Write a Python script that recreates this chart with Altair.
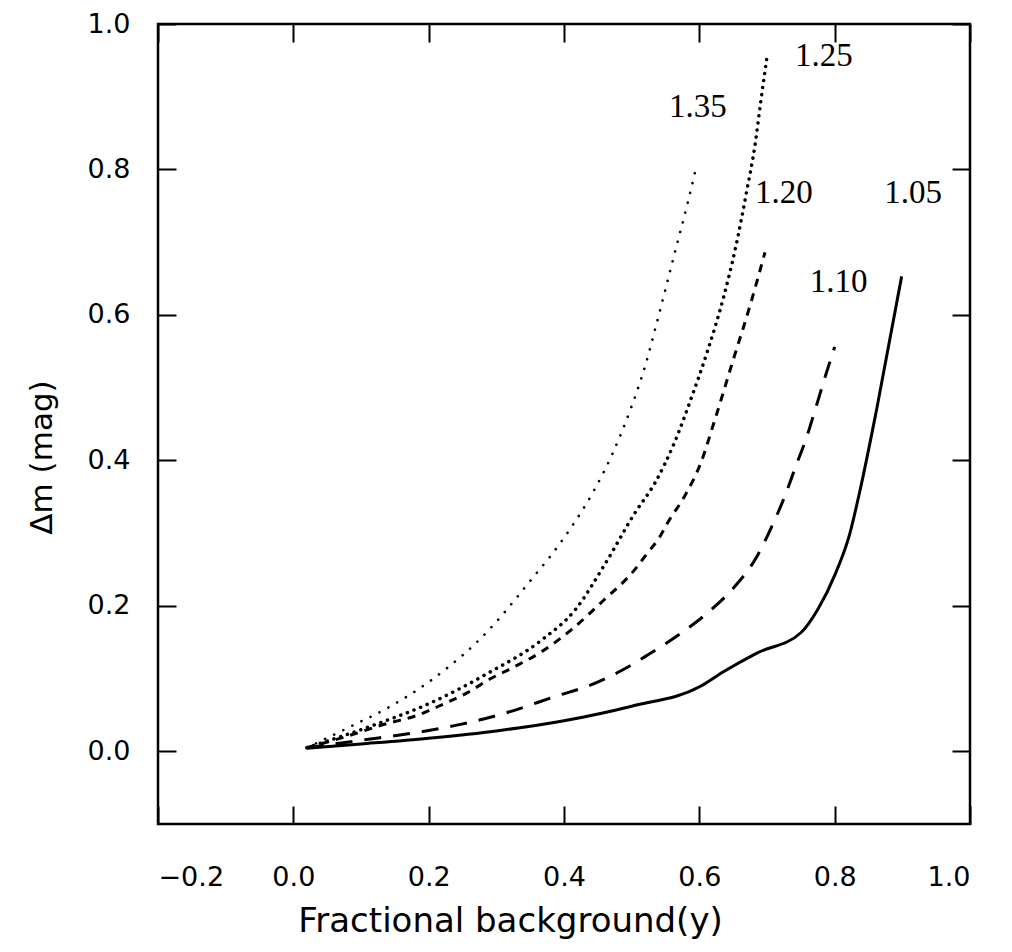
import altair as alt
import pandas as pd

# ---- data ----
x_105 = [0.02, 0.10, 0.20, 0.30, 0.40, 0.50, 0.601, 0.635, 0.685, 0.75, 0.775, 0.801, 0.822, 0.838, 0.862, 0.899]
y_105 = [0.004, 0.010, 0.018, 0.028, 0.042, 0.062, 0.089, 0.109, 0.135, 0.163, 0.195, 0.244, 0.298, 0.361, 0.470, 0.653]

x_110 = [0.02, 0.099, 0.196, 0.247, 0.315, 0.389, 0.439, 0.485, 0.523, 0.574, 0.613, 0.650, 0.684, 0.707, 0.726, 0.743, 0.759, 0.771, 0.788, 0.800]
y_110 = [0.005, 0.015, 0.028, 0.037, 0.053, 0.076, 0.091, 0.111, 0.132, 0.163, 0.191, 0.224, 0.266, 0.309, 0.350, 0.393, 0.433, 0.469, 0.521, 0.556]

x_120 = [0.02, 0.07, 0.138, 0.182, 0.222, 0.256, 0.292, 0.322, 0.367, 0.412, 0.459, 0.503, 0.522, 0.541, 0.553, 0.579, 0.602, 0.623, 0.650, 0.675, 0.697]
y_120 = [0.005, 0.018, 0.038, 0.049, 0.065, 0.080, 0.100, 0.114, 0.137, 0.168, 0.208, 0.248, 0.271, 0.294, 0.314, 0.352, 0.396, 0.456, 0.538, 0.613, 0.686]

x_125 = [0.02, 0.119, 0.204, 0.287, 0.367, 0.417, 0.459, 0.505, 0.535, 0.563, 0.589, 0.612, 0.636, 0.653, 0.670, 0.682, 0.691, 0.700]
y_125 = [0.005, 0.036, 0.067, 0.107, 0.153, 0.195, 0.255, 0.328, 0.370, 0.424, 0.488, 0.550, 0.625, 0.690, 0.770, 0.832, 0.895, 0.955]

x_135 = [0.02, 0.089, 0.144, 0.189, 0.228, 0.269, 0.299, 0.329, 0.355, 0.378, 0.41, 0.444, 0.472, 0.499, 0.52, 0.536, 0.56, 0.583, 0.596]
y_135 = [0.005, 0.036, 0.062, 0.088, 0.115, 0.148, 0.177, 0.210, 0.240, 0.266, 0.307, 0.358, 0.410, 0.472, 0.530, 0.585, 0.672, 0.755, 0.805]

label_text = ["1.25", "1.35", "1.20", "1.05", "1.10"]
label_x = [0.784, 0.598, 0.725, 0.916, 0.806]
label_y = [0.956, 0.886, 0.767, 0.768, 0.645]

x_ticks = [-0.2, 0.0, 0.2, 0.4, 0.6, 0.8, 1.0]
y_ticks = [0.0, 0.2, 0.4, 0.6, 0.8, 1.0]

W, H = 812, 800
TICK = 18

xs = alt.Scale(domain=[-0.2, 1.0], nice=False, zero=False)
ys = alt.Scale(domain=[-0.1, 1.0], nice=False, zero=False)

x_bottom = alt.Axis(orient="bottom", values=x_ticks, format=".1f", offset=-TICK, tickSize=TICK,
                    tickWidth=2, tickColor="black", domain=False, grid=False,
                    labelFont="DejaVu Sans", labelFontSize=27, labelColor="black", labelPadding=40,
                    title="Fractional background(y)", titleFont="DejaVu Sans", titleFontSize=34,
                    titleFontWeight="normal", titleColor="black", titleX=352, titleY=125,
                    titleAlign="center", titleBaseline="alphabetic")
y_left = alt.Axis(orient="left", values=y_ticks, format=".1f", offset=-TICK, tickSize=TICK,
                  tickWidth=2, tickColor="black", domain=False, grid=False,
                  labelFont="DejaVu Sans", labelFontSize=27, labelColor="black", labelPadding=28,
                  title="Δm (mag)", titleFont="DejaVu Sans", titleFontSize=31,
                  titleFontWeight="normal", titleColor="black", titleX=-134, titleY=433,
                  titleAngle=270, titleAlign="center", titleBaseline="middle")
x_top = alt.Axis(orient="top", values=x_ticks, offset=-TICK, tickSize=TICK, tickWidth=2,
                 tickColor="black", domain=False, grid=False, labels=False, title=None)
y_right = alt.Axis(orient="right", values=y_ticks, offset=-TICK, tickSize=TICK, tickWidth=2,
                   tickColor="black", domain=False, grid=False, labels=False, title=None)


def frame(xv, yv):
    return pd.DataFrame({"x": xv, "y": yv, "o": list(range(len(xv)))})


l105 = alt.Chart(frame(x_105, y_105)).mark_line(color="black", strokeWidth=3, interpolate="monotone").encode(
    x=alt.X("x:Q", scale=xs, axis=x_bottom),
    y=alt.Y("y:Q", scale=ys, axis=y_left),
    order="o:Q",
)
l110 = alt.Chart(frame(x_110, y_110)).mark_line(color="black", strokeWidth=3, strokeDash=[17, 12],
                                                 interpolate="monotone").encode(
    x=alt.X("x:Q", scale=xs, axis=x_top),
    y=alt.Y("y:Q", scale=ys, axis=y_right),
    order="o:Q",
)
l120 = alt.Chart(frame(x_120, y_120)).mark_line(color="black", strokeWidth=3, strokeDash=[8, 7],
                                                 interpolate="monotone").encode(
    x=alt.X("x:Q", scale=xs, axis=None),
    y=alt.Y("y:Q", scale=ys, axis=None),
    order="o:Q",
)
l125 = alt.Chart(frame(x_125, y_125)).mark_line(color="black", strokeWidth=3.5, strokeDash=[0.1, 7],
                                                 strokeCap="round", interpolate="monotone").encode(
    x=alt.X("x:Q", scale=xs, axis=None),
    y=alt.Y("y:Q", scale=ys, axis=None),
    order="o:Q",
)
l135 = alt.Chart(frame(x_135, y_135)).mark_line(color="black", strokeWidth=2.6, strokeDash=[0.1, 10],
                                                 strokeCap="round", interpolate="monotone").encode(
    x=alt.X("x:Q", scale=xs, axis=None),
    y=alt.Y("y:Q", scale=ys, axis=None),
    order="o:Q",
)

labels = alt.Chart(pd.DataFrame({"t": label_text, "x": label_x, "y": label_y})).mark_text(
    font="Liberation Serif", fontSize=33, color="black", align="center", baseline="middle"
).encode(
    x=alt.X("x:Q", scale=xs, axis=None),
    y=alt.Y("y:Q", scale=ys, axis=None),
    text="t:N",
)

chart = alt.layer(l105, l110, l120, l125, l135, labels).properties(
    width=W, height=H,
    autosize=alt.AutoSizeParams(type="none"),
    padding={"left": 150, "top": 16, "right": 10, "bottom": 120},
    background="white",
).configure_view(stroke="black", strokeWidth=2.5)

chart.save("out.html", embed_options={"renderer": "svg", "actions": False})
